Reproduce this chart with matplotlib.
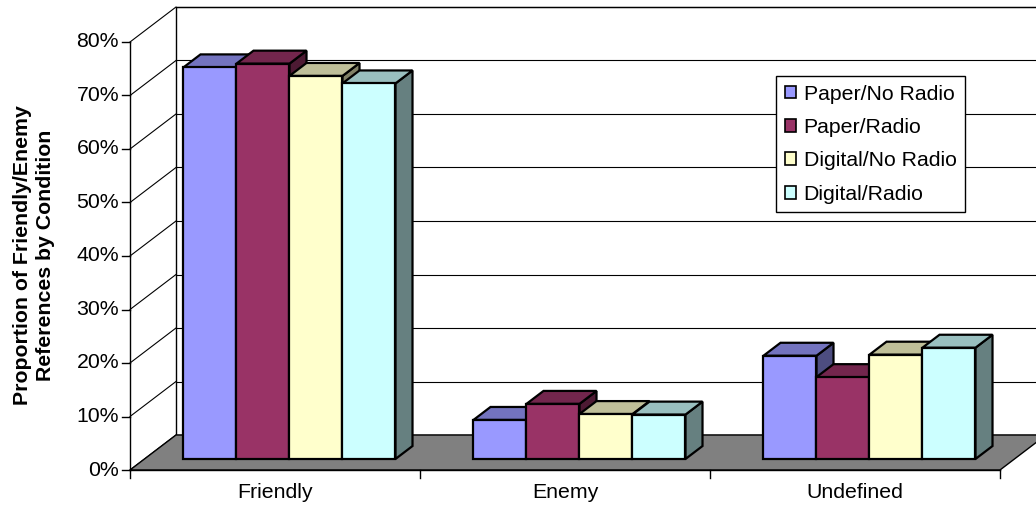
import matplotlib
matplotlib.use("Agg")
import matplotlib.pyplot as plt
from matplotlib.patches import Polygon, Patch
from matplotlib.colors import to_rgb

plt.rcParams['font.family'] = ['Liberation Sans', 'DejaVu Sans']

# ------------------------------------------------------------------
# data
# ------------------------------------------------------------------
categories = ['Friendly', 'Enemy', 'Undefined']
series_names = ['Paper/No Radio', 'Paper/Radio', 'Digital/No Radio', 'Digital/Radio']
paper_no_radio = [0.732, 0.073, 0.193]
paper_radio = [0.739, 0.103, 0.153]
digital_no_radio = [0.716, 0.084, 0.195]
digital_radio = [0.702, 0.083, 0.208]
y_ticks = [0.0, 0.1, 0.2, 0.3, 0.4, 0.5, 0.6, 0.7, 0.8]
y_tick_labels = ['0%', '10%', '20%', '30%', '40%', '50%', '60%', '70%', '80%']
colors = ['#9999FF', '#993366', '#FFFFCC', '#CCFFFF']

series = [paper_no_radio, paper_radio, digital_no_radio, digital_radio]

FS = 15.3

# ------------------------------------------------------------------
# oblique "3D" projection like the old Excel charts
# x: category units, v: value, d: depth 0 (front) .. 1 (back wall)
# ------------------------------------------------------------------
PX_CAT = 290.0   # pixels per category
PX_VAL = 535.0   # pixels per 1.0 of value
DX = 46 / PX_CAT
DY = 35 / PX_VAL
VMAX = 0.8


def proj(x, v, d):
    return (x + d * DX, v + d * DY)


def shade(c, f):
    r, g, b = to_rgb(c)
    return (r * f, g * f, b * f)


fig = plt.figure(figsize=(10.36, 5.08), dpi=100)
ax = fig.add_axes([0, 0, 1, 1])
ax.set_xlim(-130 / PX_CAT, 906 / PX_CAT)
ax.set_ylim(-38 / PX_VAL, 470 / PX_VAL)
ax.axis('off')

n_cat = len(categories)

# back wall + gridlines
wall = [proj(0, 0, 1), proj(n_cat, 0, 1), proj(n_cat, VMAX, 1), proj(0, VMAX, 1)]
ax.add_patch(Polygon(wall, closed=True, facecolor='white', edgecolor='black', lw=1, zorder=1))
for v in y_ticks:
    a, b = proj(0, v, 1), proj(n_cat, v, 1)
    ax.plot([a[0], b[0]], [a[1], b[1]], color='black', lw=0.8, zorder=1.5)
    f = proj(0, v, 0)
    ax.plot([f[0], a[0]], [f[1], a[1]], color='black', lw=0.8, zorder=1.5)

# floor
floor = [proj(0, 0, 0), proj(n_cat, 0, 0), proj(n_cat, 0, 1), proj(0, 0, 1)]
ax.add_patch(Polygon(floor, closed=True, facecolor='#808080', edgecolor='black', lw=1, zorder=2))

# axes lines and ticks
ax.plot([0, 0], [0, VMAX], color='black', lw=1, zorder=3)
ax.plot([0, n_cat], [0, 0], color='black', lw=1, zorder=3)
for v, lab in zip(y_ticks, y_tick_labels):
    ax.plot([-8 / PX_CAT, 0], [v, v], color='black', lw=1, zorder=3)
    ax.text(-11 / PX_CAT, v, lab, ha='right', va='center', fontsize=FS)
for i in range(n_cat + 1):
    ax.plot([i, i], [0, -8 / PX_VAL], color='black', lw=1, zorder=3)
for i, name in enumerate(categories):
    ax.text(i + 0.5, -23 / PX_VAL, name, ha='center', va='center', fontsize=FS)

# bars
bw = 53 / PX_CAT
d0, d1 = 0.315, 0.685
z = 10
for c in range(n_cat):
    for i, vals in enumerate(series):
        h = vals[c]
        x0 = c + 0.5 - 2 * bw + i * bw
        x1 = x0 + bw
        col = colors[i]
        side = [proj(x1, 0, d0), proj(x1, 0, d1), proj(x1, h, d1), proj(x1, h, d0)]
        top = [proj(x0, h, d0), proj(x1, h, d0), proj(x1, h, d1), proj(x0, h, d1)]
        front = [proj(x0, 0, d0), proj(x1, 0, d0), proj(x1, h, d0), proj(x0, h, d0)]
        for poly, fc in ((side, shade(col, 0.5)), (top, shade(col, 0.75)), (front, col)):
            ax.add_patch(Polygon(poly, closed=True, facecolor=fc, edgecolor='black',
                                 lw=1.6, joinstyle='miter', zorder=z))
            z += 1

# legend
handles = [Patch(facecolor=c, edgecolor='black', lw=1.2) for c in colors]
leg = ax.legend(handles, series_names, loc='upper left',
                bbox_to_anchor=(776 / 1036, 1 - 76 / 508), bbox_transform=fig.transFigure,
                borderaxespad=0, fancybox=False, framealpha=1, edgecolor='black',
                fontsize=FS, handlelength=0.55, handleheight=0.55, handletextpad=0.35,
                labelspacing=0.68, borderpad=0.4)
leg.get_frame().set_linewidth(1)
leg.set_zorder(100)

fig.text(34 / 1036, 1 - 255 / 508, 'Proportion of Friendly/Enemy\nReferences by Condition',
         rotation=90, ha='center', va='center', fontsize=FS, fontweight='bold',
         multialignment='center', linespacing=1.3)

fig.savefig('out.png', dpi=100)
